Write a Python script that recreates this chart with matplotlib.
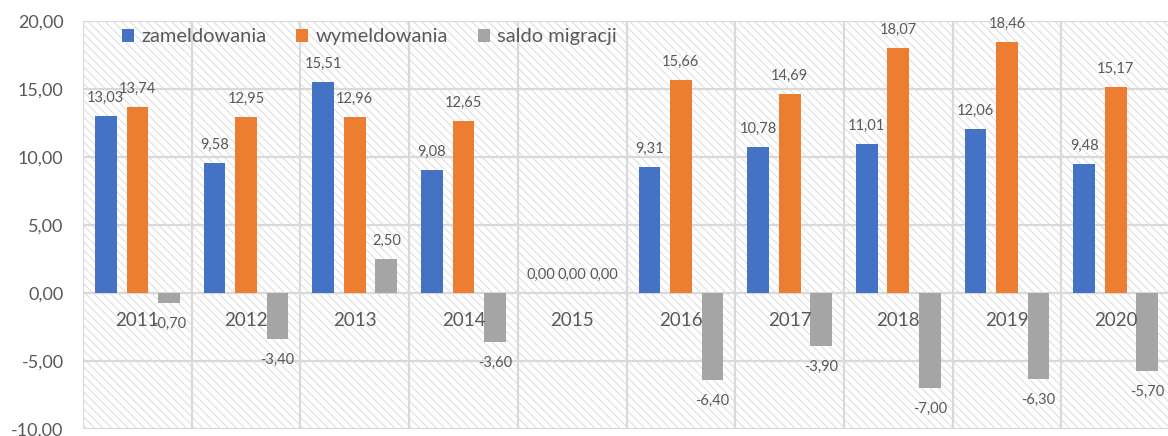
import matplotlib
matplotlib.use('Agg')
import numpy as np
import matplotlib.pyplot as plt
from matplotlib.patches import Rectangle

years = ['2011', '2012', '2013', '2014', '2015', '2016', '2017', '2018', '2019', '2020']
zameldowania = [13.03, 9.58, 15.51, 9.08, 0.00, 9.31, 10.78, 11.01, 12.06, 9.48]
wymeldowania = [13.74, 12.95, 12.96, 12.65, 0.00, 15.66, 14.69, 18.07, 18.46, 15.17]
saldo = [-0.70, -3.40, 2.50, -3.60, 0.00, -6.40, -3.90, -7.00, -6.30, -5.70]
yticks = [-10, -5, 0, 5, 10, 15, 20]

plt.rcParams['font.family'] = ['Lato', 'DejaVu Sans']
plt.rcParams['hatch.color'] = '#dcdcdc'
plt.rcParams['hatch.linewidth'] = 0.7
txt = '#595959'
grid_c = '#d9d9d9'

def fmt(v):
    return f'{v:.2f}'.replace('.', ',')

fig = plt.figure(figsize=(11.68, 4.36), dpi=100)
ax = fig.add_axes([0.0711, 0.016, 0.9307, 0.9347])
ax.set_xlim(-0.5, len(years) - 0.5)
ax.set_ylim(-10, 20)

# hatched background
ax.add_patch(Rectangle((0, 0), 1, 1, transform=ax.transAxes, facecolor='white',
                       edgecolor='#dcdcdc', hatch='\\\\\\\\', lw=0, zorder=0))

# grid
for yv in yticks:
    ax.axhline(yv, color=grid_c, lw=1.6, zorder=1)
for xv in np.arange(-0.5, len(years), 1.0):
    ax.axvline(xv, color=grid_c, lw=1.6, zorder=1)

x = np.arange(len(years))
w = 0.2
off = 0.29
series = [(zameldowania, '#4472C4', 'zameldowania', -off),
          (wymeldowania, '#ED7D31', 'wymeldowania', 0),
          (saldo, '#A5A5A5', 'saldo migracji', off)]
for vals, col, lab, dx in series:
    bars = ax.bar(x + dx, vals, w, color=col, label=lab, zorder=3)
    for b, v in zip(bars, vals):
        if v >= 0:
            ax.annotate(fmt(v), (b.get_x() + b.get_width() / 2, v), xytext=(0, 8),
                        textcoords='offset points', ha='center', va='bottom',
                        fontsize=10.5, color=txt, zorder=4)
        else:
            ax.annotate(fmt(v), (b.get_x() + b.get_width() / 2, v), xytext=(0, -10),
                        textcoords='offset points', ha='center', va='top',
                        fontsize=10.5, color=txt, zorder=4)

# category labels sitting below the zero line
for i, yr in enumerate(years):
    ax.annotate(yr, (i, 0), xytext=(0, -20), textcoords='offset points',
                ha='center', va='center', fontsize=13.5, color=txt, zorder=4)

ax.set_xticks([])
ax.set_yticks(yticks)
ax.set_yticklabels([fmt(v) for v in yticks], fontsize=13, color=txt)
ax.tick_params(axis='y', length=0, pad=14)
for s in ax.spines.values():
    s.set_visible(False)

ax.legend(loc='upper left', bbox_to_anchor=(0.019, 1.028), ncol=3, frameon=False,
          fontsize=14.5, handlelength=0.6, handleheight=0.6, handletextpad=0.35,
          columnspacing=1.5, labelcolor=txt)

fig.savefig('out.png', dpi=100)
